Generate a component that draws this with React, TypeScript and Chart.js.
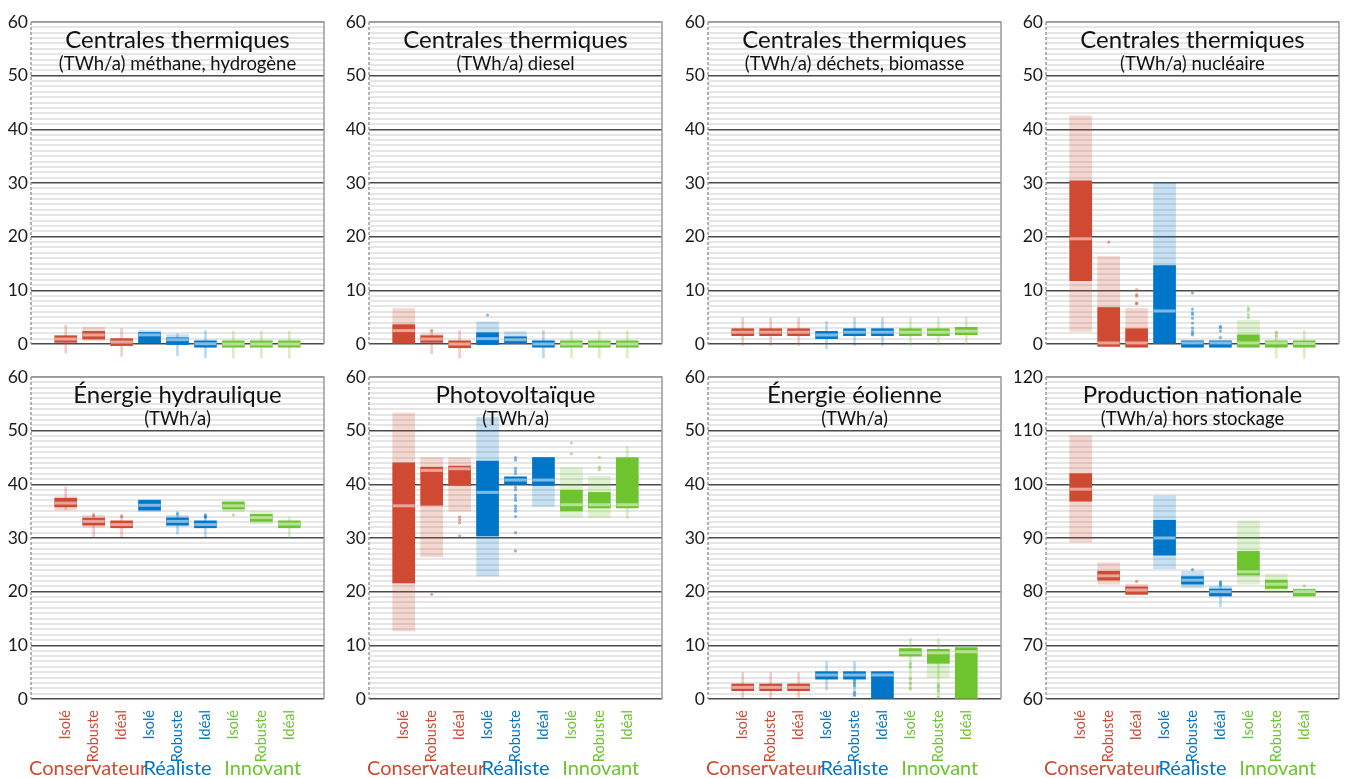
import React, { useEffect, useRef } from 'react';
import { Chart, registerables } from 'chart.js';
Chart.register(...registerables);

const FONT = "Lato, 'Open Sans', sans-serif";
Chart.defaults.font.family = FONT;

const CATEGORIES = ['Isolé', 'Robuste', 'Idéal', 'Isolé', 'Robuste', 'Idéal', 'Isolé', 'Robuste', 'Idéal'];
const GROUPS = ['Conservateur', 'Réaliste', 'Innovant'];
const GROUP_COLORS = ['#d04a33', '#0076c9', '#6dc42f'];
const GROUP_LABEL_POS = [0.8, 4, 7.05];

// ---- Centrales thermiques : méthane, hydrogène
const methQ1 = [0.3, 0.93, -0.3, 0.25, -0.1, -0.6, -0.6, -0.6, -0.6];
const methQ3 = [1.55, 2.35, 1.0, 2.15, 1.17, 0.6, 0.6, 0.6, 0.6];
const methMed = [0.93, 1.68, 0.37, 1.7, 0.8, 0.05, 0, 0, 0];
const methLo = [null, 0.6, null, 0.25, 0.2, null, null, null, null];
const methHi = [null, 3.1, null, 2.5, 1.73, null, null, null, null];
const methWLo = [-1.7, null, -2.3, null, -2.2, -2.6, -2.6, -2.6, -2.6];
const methWHi = [3.5, null, 2.85, null, 1.9, 2.5, 2.4, 2.4, 2.4];
const methOut: number[][] = [[], [], [], [], [], [], [], [], []];

// ---- Centrales thermiques : diesel
const dieQ1 = [0, 0.3, -0.7, -0.1, 0.05, -0.6, -0.6, -0.6, -0.6];
const dieQ3 = [3.6, 1.55, 0.6, 2.1, 1.35, 0.6, 0.6, 0.6, 0.6];
const dieMed = [2.5, 0.93, 0, 1.0, 0.8, 0, 0, 0, 0];
const dieLo = [0, 0.25, null, 0, 0, null, null, null, null];
const dieHi = [6.6, 1.9, null, 4.15, 2.3, null, null, null, null];
const dieWLo = [null, -1.8, -2.6, null, null, -2.6, -2.6, -2.6, -2.6];
const dieWHi = [null, 2.5, 2.5, null, null, 2.5, 2.5, 2.5, 2.5];
const dieOut: number[][] = [[], [2.5], [], [5.4], [], [], [], [], []];

// ---- Centrales thermiques : déchets, biomasse
const decQ1 = [1.55, 1.55, 1.55, 1.0, 1.55, 1.55, 1.55, 1.55, 1.73];
const decQ3 = [2.85, 2.85, 2.85, 2.35, 2.85, 2.85, 2.85, 2.85, 3.1];
const decMed = [2.2, 2.2, 2.2, 1.68, 2.2, 2.2, 2.2, 2.2, 2.4];
const decLo = [null, null, null, null, null, null, null, null, null];
const decHi = [null, null, null, null, null, null, null, null, null];
const decWLo = [-0.3, -0.3, -0.3, -0.9, -0.3, -0.3, -0.3, -0.3, -0.1];
const decWHi = [4.85, 4.85, 4.85, 4.2, 4.85, 4.85, 4.85, 4.85, 5.0];
const decOut: number[][] = [[], [], [], [], [], [], [], [], []];

// ---- Centrales thermiques : nucléaire
const nucQ1 = [11.8, -0.45, -0.6, 0, -0.6, -0.6, -0.6, -0.6, -0.6];
const nucQ3 = [30.4, 6.8, 2.85, 14.6, 0.6, 0.6, 1.7, 0.6, 0.6];
const nucMed = [19.6, 0.2, 0.2, 6.15, 0.2, 0.2, 0.2, 0.2, 0.1];
const nucLo = [2.36, 0.5, 0.2, 0, null, null, 0, null, null];
const nucHi = [42.5, 16.3, 6.6, 30.1, null, null, 4.4, null, null];
const nucWLo = [null, -2.3, -2.6, null, -2.6, -2.6, null, -2.6, -2.6];
const nucWHi = [null, null, null, null, null, null, null, 2.2, 2.5];
const nucOut: number[][] = [[], [19.0], [10.1, 9.2, 8.9, 7.6, 7.5], [], [9.5, 6.5, 5.8, 5.5, 4.8, 3.9, 3.0, 2.4, 2.0, 1.7], [3.3, 3.0, 2.4, 1.2], [6.7, 6.3, 5.5, 4.9], [2.2, 1.5], []];

// ---- Énergie hydraulique
const hydQ1 = [35.8, 32.4, 31.9, 35.2, 32.4, 31.9, 35.4, 33.1, 31.9];
const hydQ3 = [37.4, 33.7, 33.2, 37.0, 33.75, 33.2, 36.7, 34.4, 33.2];
const hydMed = [36.5, 33.1, 32.5, 36.1, 33.1, 32.5, 36.0, 33.8, 32.6];
const hydLo = [35.2, 32.0, null, 34.9, 32.2, null, 34.9, 32.6, null];
const hydHi = [37.7, 34.2, null, 37.2, 34.2, null, 36.9, 34.9, null];
const hydWLo = [35.3, 30.3, 30.2, null, 30.7, 30.2, null, null, 29.9];
const hydWHi = [39.5, 34.7, 34.4, null, 34.9, 34.55, null, null, 33.9];
const hydOut: number[][] = [[], [34.2], [34.0], [], [34.5], [34.2, 34.0, 33.8], [34.3], [], []];

// ---- Photovoltaïque
const pvQ1 = [21.65, 36.1, 39.8, 30.4, 40.0, 39.8, 35.05, 35.6, 35.6];
const pvQ3 = [44.0, 43.2, 43.4, 44.35, 41.4, 45.0, 38.9, 38.5, 45.0];
const pvMed = [36.0, 42.6, 42.9, 38.5, 40.8, 40.8, 36.2, 36.2, 36.2];
const pvLo = [12.7, 26.5, 35.0, 22.95, null, 35.9, 33.9, 33.8, null];
const pvHi = [53.3, 45.0, 45.0, 52.5, null, 45.0, 43.1, 41.5, null];
const pvWLo = [null, null, null, null, null, null, null, null, 33.6];
const pvWHi = [null, null, null, null, null, 47.0, null, null, 47.0];
const pvOut: number[][] = [[], [19.5], [33.9, 33.4, 32.8, 30.4], [], [45.0, 44.5, 43.0, 42.5, 42.0, 39.5, 39.0, 38.0, 37.5, 37.0, 36.0, 35.5, 35.0, 34.0, 31.0, 27.6], [], [47.7, 45.7], [45.0, 43.2, 42.7], []];

// ---- Énergie éolienne
const eolQ1 = [1.55, 1.55, 1.55, 3.7, 3.7, 0, 8.0, 6.65, 0];
const eolQ3 = [2.8, 2.8, 2.8, 5.1, 5.1, 5.1, 9.4, 9.25, 9.6];
const eolMed = [2.17, 2.17, 2.17, 4.47, 4.47, 4.47, 8.6, 8.6, 8.8];
const eolLo = [null, null, null, null, null, null, null, 4.0, null];
const eolHi = [null, null, null, null, null, null, null, 9.25, null];
const eolWLo = [0, 0, 0, 1.7, 0.5, null, 1.5, 0.3, null];
const eolWHi = [4.9, 4.9, 4.9, 6.95, 6.95, 6.95, 11.3, 11.3, 11.3];
const eolOut: number[][] = [[], [], [], [], [3.5, 3.0, 2.5, 1.2, 0.7], [], [6.6, 6.0, 3.8, 2.9, 2.0], [2.6, 2.2, 1.5, 0.3], []];

// ---- Production nationale
const natQ1 = [96.85, 82.15, 79.5, 86.8, 81.4, 79.2, 83.1, 80.6, 79.2];
const natQ3 = [102.0, 83.8, 80.9, 93.3, 82.8, 80.5, 87.5, 82.15, 80.4];
const natMed = [99.1, 82.95, 80.3, 90.0, 82.15, 80.0, 83.7, 81.4, 80.0];
const natLo = [89.2, 81.4, 79.5, 84.3, 80.7, 79.2, 81.4, 79.8, 79.2];
const natHi = [109.1, 85.4, 81.4, 97.85, 83.8, 81.0, 93.2, 83.3, 80.6];
const natWLo = [null, null, null, null, null, 77.2, null, null, null];
const natWHi = [null, null, 82.0, null, 84.1, 82.0, null, null, 81.2];
const natOut: number[][] = [[], [], [81.9], [], [84.1], [81.8, 81.5, 81.2], [], [], [81.1]];

type Arr = (number | null)[];
type Panel = {
  title: string; subtitle: string; min: number; max: number;
  q1: Arr; q3: Arr; med: Arr; lo: Arr; hi: Arr; wlo: Arr; whi: Arr; out: number[][];
};

const PANELS: Panel[] = [
  { title: 'Centrales thermiques', subtitle: '(TWh/a) méthane, hydrogène', min: 0, max: 60, q1: methQ1, q3: methQ3, med: methMed, lo: methLo, hi: methHi, wlo: methWLo, whi: methWHi, out: methOut },
  { title: 'Centrales thermiques', subtitle: '(TWh/a) diesel', min: 0, max: 60, q1: dieQ1, q3: dieQ3, med: dieMed, lo: dieLo, hi: dieHi, wlo: dieWLo, whi: dieWHi, out: dieOut },
  { title: 'Centrales thermiques', subtitle: '(TWh/a) déchets, biomasse', min: 0, max: 60, q1: decQ1, q3: decQ3, med: decMed, lo: decLo, hi: decHi, wlo: decWLo, whi: decWHi, out: decOut },
  { title: 'Centrales thermiques', subtitle: '(TWh/a) nucléaire', min: 0, max: 60, q1: nucQ1, q3: nucQ3, med: nucMed, lo: nucLo, hi: nucHi, wlo: nucWLo, whi: nucWHi, out: nucOut },
  { title: 'Énergie hydraulique', subtitle: '(TWh/a)', min: 0, max: 60, q1: hydQ1, q3: hydQ3, med: hydMed, lo: hydLo, hi: hydHi, wlo: hydWLo, whi: hydWHi, out: hydOut },
  { title: 'Photovoltaïque', subtitle: '(TWh/a)', min: 0, max: 60, q1: pvQ1, q3: pvQ3, med: pvMed, lo: pvLo, hi: pvHi, wlo: pvWLo, whi: pvWHi, out: pvOut },
  { title: 'Énergie éolienne', subtitle: '(TWh/a)', min: 0, max: 60, q1: eolQ1, q3: eolQ3, med: eolMed, lo: eolLo, hi: eolHi, wlo: eolWLo, whi: eolWHi, out: eolOut },
  { title: 'Production nationale', subtitle: '(TWh/a) hors stockage', min: 60, max: 120, q1: natQ1, q3: natQ3, med: natMed, lo: natLo, hi: natHi, wlo: natWLo, whi: natWHi, out: natOut },
];

function rgba(hex: string, a: number) {
  const n = parseInt(hex.slice(1), 16);
  return `rgba(${(n >> 16) & 255},${(n >> 8) & 255},${n & 255},${a})`;
}
const groupColor = (x: number, a: number) => rgba(GROUP_COLORS[Math.floor(x / 3)], a);

function ranges(lo: Arr, hi: Arr) {
  const res: any[] = [];
  lo.forEach((v, i) => {
    const h = hi[i];
    if (v != null && h != null) res.push({ x: i, y: [v, h] });
  });
  return res;
}

const CANVAS_LEFT = [0, 338, 677, 1015];
const CANVAS_W = 338;
const TOP_H = 362;
const BOT_TOP = 355;
const BOT_H = 423;
const PAD_TOP = 22;
const PLOT_H = 322;
const Y_AXIS_W = 31;

function PanelChart({ panel, left, top, height, bottomRow }: { panel: Panel; left: number; top: number; height: number; bottomRow: boolean }) {
  const ref = useRef<HTMLCanvasElement>(null);
  useEffect(() => {
    const decor = {
      id: 'decor',
      beforeDatasetsDraw(chart: any) {
        const { ctx, chartArea: a } = chart;
        ctx.save();
        ctx.strokeStyle = '#9a9a9a';
        ctx.lineWidth = 1.5;
        ctx.beginPath();
        ctx.moveTo(a.left, a.top);
        ctx.lineTo(a.right, a.top);
        ctx.lineTo(a.right, a.bottom);
        ctx.stroke();
        ctx.setLineDash([3, 2]);
        ctx.beginPath();
        ctx.moveTo(a.left, a.top);
        ctx.lineTo(a.left, a.bottom);
        ctx.stroke();
        ctx.restore();
      },
      afterDraw(chart: any) {
        const { ctx, chartArea: a } = chart;
        const cx = (a.left + a.right) / 2;
        ctx.save();
        ctx.textAlign = 'center';
        ctx.textBaseline = 'alphabetic';
        ctx.fillStyle = '#111';
        ctx.font = `24px ${FONT}`;
        ctx.fillText(panel.title, cx, a.top + 26);
        ctx.font = `18.5px ${FONT}`;
        ctx.fillText(panel.subtitle, cx, a.top + 48);
        if (bottomRow) {
          const xs = chart.scales.x;
          ctx.font = `20px ${FONT}`;
          GROUPS.forEach((g, i) => {
            ctx.fillStyle = GROUP_COLORS[i];
            ctx.fillText(g, xs.getPixelForValue(GROUP_LABEL_POS[i]), chart.height - 3);
          });
        }
        ctx.restore();
      },
    };

    const medians = panel.med.map((v, i) => (v == null ? null : { x: i, y: v })).filter(Boolean);
    const outliers: any[] = [];
    panel.out.forEach((vals, i) => vals.forEach((v) => outliers.push({ x: i, y: v })));

    const chart = new Chart(ref.current!, {
      type: 'bar',
      data: {
        datasets: [
          {
            type: 'scatter', data: outliers, order: 1, clip: false as any,
            pointRadius: 1.6, pointBorderWidth: 0,
            pointBackgroundColor: (c: any) => groupColor(c.raw ? c.raw.x : 0, 0.5),
            backgroundColor: (c: any) => groupColor(c.raw ? c.raw.x : 0, 0.5),
          } as any,
          {
            type: 'scatter', data: medians, order: 2, clip: false as any,
            pointStyle: 'line', pointRadius: 11, pointBorderWidth: 3, borderWidth: 3,
            pointBorderColor: 'rgba(255,255,255,0.5)', borderColor: 'rgba(255,255,255,0.5)',
          } as any,
          {
            type: 'bar', data: ranges(panel.q1, panel.q3), order: 3, grouped: false, barThickness: 22, clip: false as any,
            backgroundColor: (c: any) => groupColor(c.raw ? c.raw.x : 0, 1),
          } as any,
          {
            type: 'bar', data: ranges(panel.lo, panel.hi), order: 4, grouped: false, barThickness: 22, clip: false as any,
            backgroundColor: (c: any) => groupColor(c.raw ? c.raw.x : 0, 0.22),
          } as any,
          {
            type: 'bar', data: ranges(panel.wlo, panel.whi), order: 5, grouped: false, barThickness: 2, clip: false as any,
            backgroundColor: (c: any) => groupColor(c.raw ? c.raw.x : 0, 0.28),
          } as any,
        ],
      },
      options: {
        animation: false,
        responsive: false,
        events: [],
        layout: { padding: { top: PAD_TOP, right: 7, left: 0, bottom: 0 } },
        plugins: { legend: { display: false }, tooltip: { enabled: false } },
        scales: {
          x: {
            type: 'linear', min: -0.66, max: 8.66,
            afterBuildTicks: (s: any) => { s.ticks = CATEGORIES.map((_, i) => ({ value: i })); },
            afterFit: (s: any) => { s.height = height - PAD_TOP - PLOT_H; },
            grid: { display: false },
            border: { display: false },
            ticks: {
              display: bottomRow, autoSkip: false, minRotation: 90, maxRotation: 90, padding: 3,
              font: { size: 14.5, family: FONT },
              color: (c: any) => GROUP_COLORS[Math.floor((c.index ?? 0) / 3)],
              callback: (v: any) => CATEGORIES[Math.round(Number(v))] ?? '',
            },
          },
          y: {
            type: 'linear', min: panel.min, max: panel.max,
            afterFit: (s: any) => { s.width = Y_AXIS_W; },
            border: { display: false },
            grid: {
              drawTicks: false,
              color: (c: any) => {
                const v = c.tick.value;
                if (v === panel.max) return '#9a9a9a';
                return v % 10 === 0 ? '#4a4a4a' : '#e6e6e6';
              },
              lineWidth: (c: any) => (c.tick.value % 10 === 0 ? 1.4 : 2),
            },
            ticks: {
              stepSize: 1, autoSkip: false, padding: 3,
              font: { size: 17.5, family: FONT }, color: '#1a1a1a',
              callback: (v: any) => (Number(v) % 10 === 0 ? String(v) : ''),
            },
          },
        },
      } as any,
      plugins: [decor],
    });
    return () => chart.destroy();
  }, []);
  return (
    <canvas ref={ref} width={CANVAS_W} height={height}
      style={{ position: 'absolute', left, top, width: CANVAS_W, height }} />
  );
}

export default function App() {
  return (
    <div style={{ position: 'absolute', left: 0, top: 0, width: 1355, height: 778, background: '#fff', overflow: 'hidden' }}>
      {PANELS.map((p, i) => {
        const bottomRow = i >= 4;
        return (
          <PanelChart key={i} panel={p} left={CANVAS_LEFT[i % 4]}
            top={bottomRow ? BOT_TOP : 0} height={bottomRow ? BOT_H : TOP_H} bottomRow={bottomRow} />
        );
      })}
    </div>
  );
}
